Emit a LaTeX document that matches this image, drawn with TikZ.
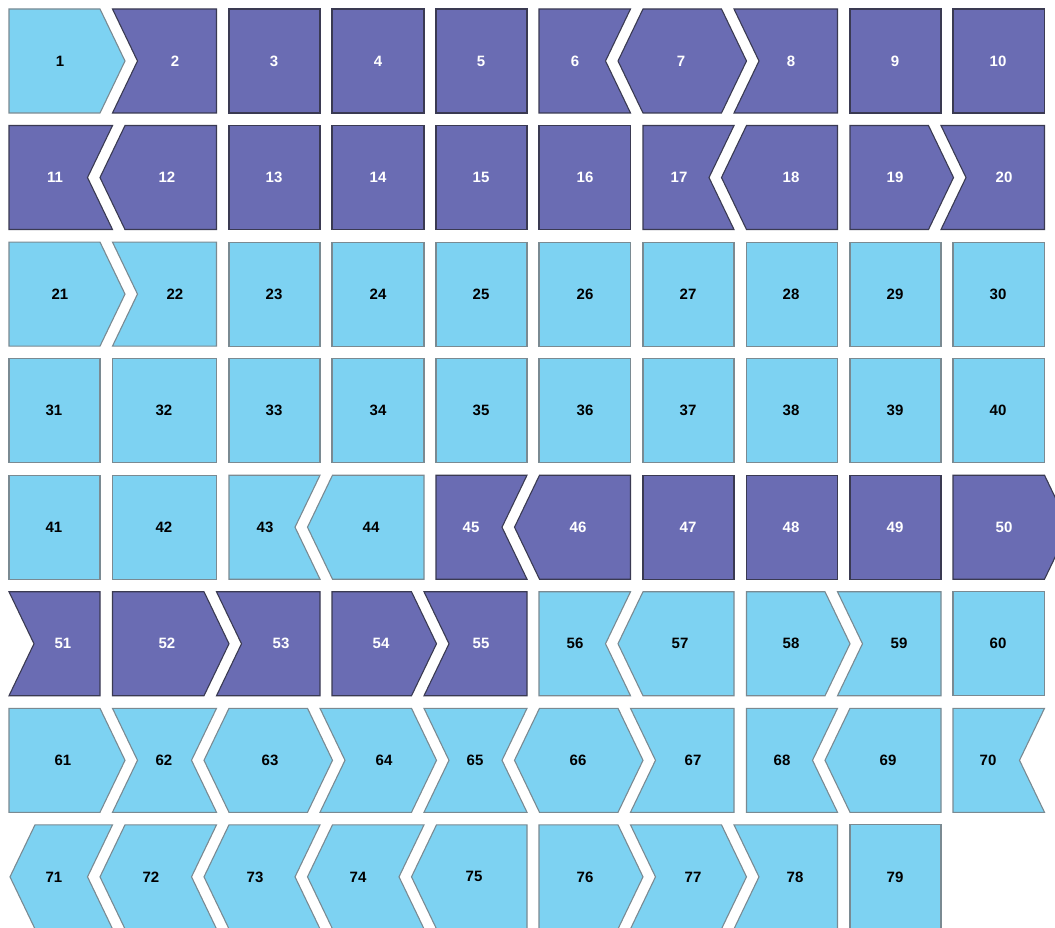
\documentclass[tikz,border=0pt]{standalone}
\usepackage{fontspec}
\setmainfont{Liberation Sans}

\definecolor{tileblue}{HTML}{7DD2F2}
\definecolor{tilepurple}{HTML}{6A6CB3}
\definecolor{edgeblue}{HTML}{7A8A92}
\definecolor{edgepurple}{HTML}{3A3A52}

\begin{document}
\begin{tikzpicture}[
  x=1pt, y=-1pt,
  font=\fontsize{15}{18}\selectfont\bfseries,
  tileL/.style={draw=edgeblue, fill=tileblue, line width=1.1pt},
  tileD/.style={draw=edgepurple, fill=tilepurple, line width=1.1pt},
  txtL/.style={text=black, inner sep=0pt},
  txtD/.style={text=white, inner sep=0pt}
]
  \path[use as bounding box, fill=white] (0,0) rectangle (1055,928);

  % number/row/left corner/left tip/right corner/right tip/colour/label x
  \foreach \num/\row/\xa/\xb/\xc/\xd/\kind/\lx in {
    % row 1
    1/0/9/9/100/125/L/60, 2/0/112.5/137.5/216.5/216.5/D/175,
    3/0/229/229/320/320/D/274, 4/0/332/332/424/424/D/378,
    5/0/436/436/527/527/D/481, 6/0/539/539/630.5/605.5/D/575,
    7/0/643/618/721.5/746.5/D/681, 8/0/734/759/837.5/837.5/D/791,
    9/0/850/850/941/941/D/895, 10/0/953/953/1044.5/1044.5/D/998,
    % row 2
    11/1/9/9/112.5/87.5/D/55, 12/1/125/100/216.5/216.5/D/167,
    13/1/229/229/320/320/D/274, 14/1/332/332/424/424/D/378,
    15/1/436/436/527/527/D/481, 16/1/539/539/630.5/630.5/D/585,
    17/1/643/643/734/709/D/679, 18/1/746.5/721.5/837.5/837.5/D/791,
    19/1/850/850/928.5/953.5/D/895, 20/1/941/966/1044.5/1044.5/D/1004,
    % row 3
    21/2/9/9/100/125/L/60, 22/2/112.5/137.5/216.5/216.5/L/175,
    23/2/229/229/320/320/L/274, 24/2/332/332/424/424/L/378,
    25/2/436/436/527/527/L/481, 26/2/539/539/630.5/630.5/L/585,
    27/2/643/643/734/734/L/688, 28/2/746.5/746.5/837.5/837.5/L/791,
    29/2/850/850/941/941/L/895, 30/2/953/953/1044.5/1044.5/L/998,
    % row 4
    31/3/9/9/100/100/L/54, 32/3/112.5/112.5/216.5/216.5/L/164,
    33/3/229/229/320/320/L/274, 34/3/332/332/424/424/L/378,
    35/3/436/436/527/527/L/481, 36/3/539/539/630.5/630.5/L/585,
    37/3/643/643/734/734/L/688, 38/3/746.5/746.5/837.5/837.5/L/791,
    39/3/850/850/941/941/L/895, 40/3/953/953/1044.5/1044.5/L/998,
    % row 5
    41/4/9/9/100/100/L/54, 42/4/112.5/112.5/216.5/216.5/L/164,
    43/4/229/229/320/295/L/265, 44/4/332.5/307.5/424/424/L/371,
    45/4/436/436/527/502/D/471, 46/4/539.5/514.5/630.5/630.5/D/578,
    47/4/643/643/734/734/D/688, 48/4/746.5/746.5/837.5/837.5/D/791,
    49/4/850/850/941/941/D/895, 50/4/953/953/1044.5/1069.5/D/1004,
    % row 6
    51/5/9/34/100/100/D/63, 52/5/112.5/112.5/204/229/D/167,
    53/5/216.5/241.5/320/320/D/281, 54/5/332/332/411.5/436.5/D/381,
    55/5/424/449/527/527/D/481, 56/5/539/539/630.5/605.5/L/575,
    57/5/643/618/734/734/L/680, 58/5/746.5/746.5/825/850/L/791,
    59/5/837.5/862.5/941/941/L/899, 60/5/953/953/1044.5/1044.5/L/998,
    % row 7
    61/6/9/9/100/125/L/63, 62/6/112.5/137.5/216.5/191.5/L/164,
    63/6/229/204/307.5/332.5/L/270, 64/6/320/345/411.5/436.5/L/384,
    65/6/424/449/527/502/L/475, 66/6/539.5/514.5/618/643/L/578,
    67/6/630.5/655.5/734/734/L/693, 68/6/746.5/746.5/837.5/812.5/L/782,
    69/6/850/825/941/941/L/888, 70/6/953/953/1044.5/1019.5/L/988,
    % row 8
    71/7/35/10/112.5/87.5/L/54, 72/7/125/100/216.5/191.5/L/151,
    73/7/229/204/320/295/L/255, 74/7/332.5/307.5/424/399/L/358,
    75/7/436.5/411.5/527/527/L/474, 76/7/539/539/618/643/L/585,
    77/7/630.5/655.5/721.5/746.5/L/693, 78/7/734/759/837.5/837.5/L/795,
    79/7/850/850/941/941/L/895}
  {
    \pgfmathsetmacro\ytop{9+116.55*\row}
    \pgfmathsetmacro\ymid{\ytop+52}
    \pgfmathsetmacro\ybot{\ytop+104}
    \draw[tile\kind] (\xa,\ytop) -- (\xc,\ytop) -- (\xd,\ymid) -- (\xc,\ybot)
      -- (\xa,\ybot) -- (\xb,\ymid) -- cycle;
    \node[txt\kind] (t\num) at (\lx,\ymid) {\num};
  }
\end{tikzpicture}
\end{document}
